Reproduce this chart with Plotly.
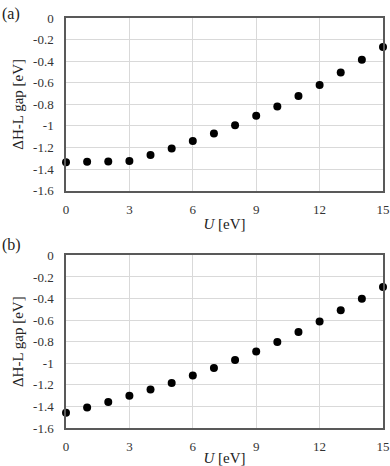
import plotly.graph_objects as go
from plotly.subplots import make_subplots

# Data
u_values = [0, 1, 2, 3, 4, 5, 6, 7, 8, 9, 10, 11, 12, 13, 14, 15]
gap_a = [-1.338, -1.332, -1.330, -1.326, -1.270, -1.209, -1.141, -1.070,
         -0.993, -0.906, -0.820, -0.724, -0.620, -0.506, -0.388, -0.268]
gap_b = [-1.458, -1.411, -1.359, -1.300, -1.244, -1.182, -1.114, -1.043,
         -0.969, -0.891, -0.802, -0.709, -0.613, -0.508, -0.402, -0.294]
x_ticks = [0, 3, 6, 9, 12, 15]
y_ticks = [0, -0.2, -0.4, -0.6, -0.8, -1, -1.2, -1.4, -1.6]
y_tick_text = ["0", "-0.2", "-0.4", "-0.6", "-0.8", "-1", "-1.2", "-1.4", "-1.6"]

font = "Liberation Serif, Times New Roman, serif"

fig = make_subplots(rows=2, cols=1, vertical_spacing=0.158)

for row, gap in [(1, gap_a), (2, gap_b)]:
    fig.add_trace(go.Scatter(
        x=u_values, y=gap, mode="markers",
        marker=dict(color="black", size=8),
        showlegend=False, cliponaxis=False
    ), row=row, col=1)
    fig.update_xaxes(
        range=[0, 15], tickvals=x_ticks, showgrid=True, gridcolor="#d9d9d9",
        showline=True, linecolor="#595959", linewidth=1.5, mirror=True,
        zeroline=False, ticks="", ticklabelstandoff=6, automargin=False,
        tickfont=dict(size=13, color="#333"),
        title=dict(text="<i>U</i> [eV]", font=dict(size=15, color="#222"), standoff=3),
        row=row, col=1)
    fig.update_yaxes(
        range=[-1.6, 0], tickvals=y_ticks, ticktext=y_tick_text,
        showgrid=True, gridcolor="#d9d9d9",
        showline=True, linecolor="#595959", linewidth=1.5, mirror=True,
        zeroline=False, ticks="", ticklabelstandoff=8, automargin=False,
        tickfont=dict(size=13, color="#333"),
        title=dict(text="ΔH-L gap [eV]", font=dict(size=15, color="#222"), standoff=6),
        row=row, col=1)

fig.add_annotation(text="(a)", xref="paper", yref="paper", x=-0.207, y=1.01,
                   xanchor="left", yanchor="middle", showarrow=False,
                   font=dict(size=16, color="#222"))
fig.add_annotation(text="(b)", xref="paper", yref="paper", x=-0.207, y=0.446,
                   xanchor="left", yanchor="middle", showarrow=False,
                   font=dict(size=16, color="#222"))

fig.update_layout(
    width=390, height=466,
    margin=dict(l=66, r=7, t=18, b=38),
    paper_bgcolor="white", plot_bgcolor="white",
    font=dict(family=font, color="#222"),
)

fig.write_html("out.html", config={"displayModeBar": False},
               post_script="document.body.style.margin='0';")
